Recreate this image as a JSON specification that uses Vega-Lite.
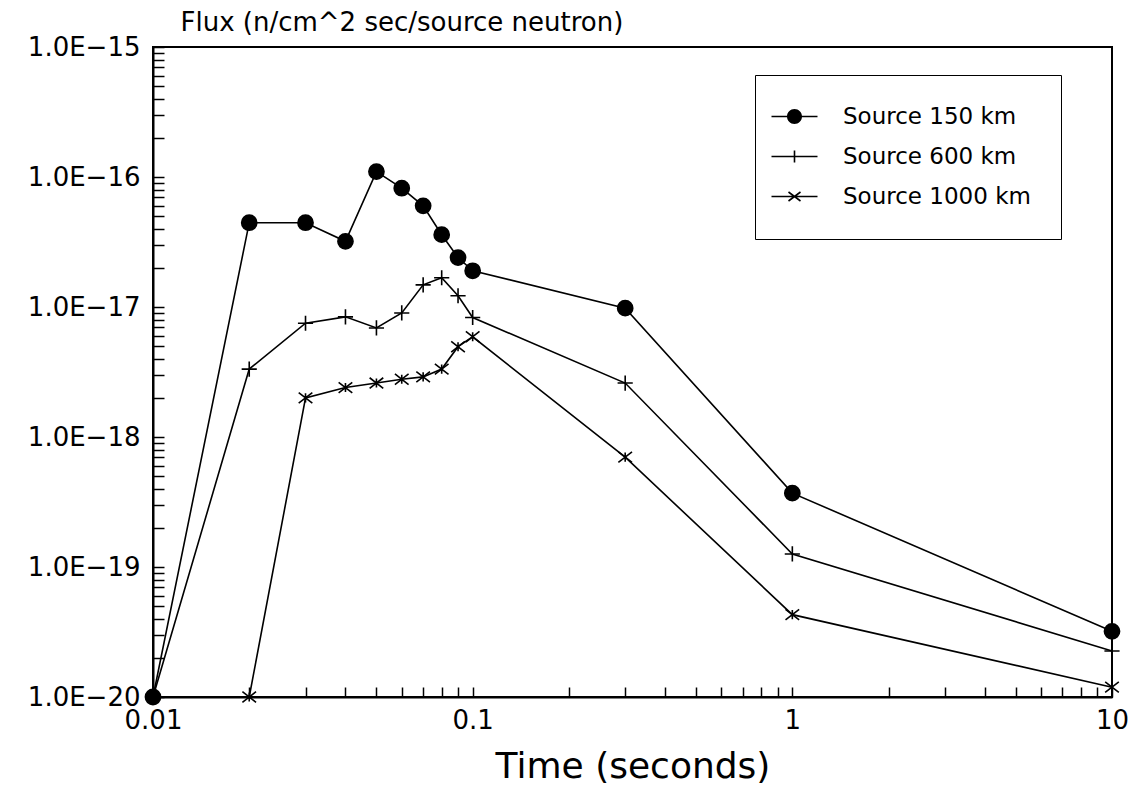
{
  "$schema": "https://vega.github.io/schema/vega-lite/v6.json",
  "width": 959,
  "height": 650,
  "autosize": "none",
  "padding": {"left": 153, "top": 47, "right": 25, "bottom": 98},
  "background": "white",
  "config": {
    "font": "DejaVu Sans",
    "view": {"stroke": "black", "strokeWidth": 2},
    "axis": {"domainColor": "black", "domainWidth": 2, "tickColor": "black", "tickWidth": 1.5, "labelColor": "black", "titleColor": "black", "grid": false, "labelFont": "DejaVu Sans", "titleFont": "DejaVu Sans", "titleFontWeight": "normal"}
  },
  "data": {
    "values": [
      {"series": "Source 150 km", "t": 0.01, "flux": 1e-20},
      {"series": "Source 150 km", "t": 0.02, "flux": 4.45e-17},
      {"series": "Source 150 km", "t": 0.03, "flux": 4.45e-17},
      {"series": "Source 150 km", "t": 0.04, "flux": 3.2e-17},
      {"series": "Source 150 km", "t": 0.05, "flux": 1.1e-16},
      {"series": "Source 150 km", "t": 0.06, "flux": 8.2e-17},
      {"series": "Source 150 km", "t": 0.07, "flux": 6.0e-17},
      {"series": "Source 150 km", "t": 0.08, "flux": 3.6e-17},
      {"series": "Source 150 km", "t": 0.09, "flux": 2.4e-17},
      {"series": "Source 150 km", "t": 0.1, "flux": 1.9e-17},
      {"series": "Source 150 km", "t": 0.3, "flux": 9.8e-18},
      {"series": "Source 150 km", "t": 1, "flux": 3.7e-19},
      {"series": "Source 150 km", "t": 10, "flux": 3.2e-20},
      {"series": "Source 600 km", "t": 0.01, "flux": 1e-20},
      {"series": "Source 600 km", "t": 0.02, "flux": 3.33e-18},
      {"series": "Source 600 km", "t": 0.03, "flux": 7.5e-18},
      {"series": "Source 600 km", "t": 0.04, "flux": 8.4e-18},
      {"series": "Source 600 km", "t": 0.05, "flux": 6.9e-18},
      {"series": "Source 600 km", "t": 0.06, "flux": 9.0e-18},
      {"series": "Source 600 km", "t": 0.07, "flux": 1.48e-17},
      {"series": "Source 600 km", "t": 0.08, "flux": 1.68e-17},
      {"series": "Source 600 km", "t": 0.09, "flux": 1.22e-17},
      {"series": "Source 600 km", "t": 0.1, "flux": 8.3e-18},
      {"series": "Source 600 km", "t": 0.3, "flux": 2.6e-18},
      {"series": "Source 600 km", "t": 1, "flux": 1.26e-19},
      {"series": "Source 600 km", "t": 10, "flux": 2.26e-20},
      {"series": "Source 1000 km", "t": 0.02, "flux": 1e-20},
      {"series": "Source 1000 km", "t": 0.03, "flux": 2.0e-18},
      {"series": "Source 1000 km", "t": 0.04, "flux": 2.4e-18},
      {"series": "Source 1000 km", "t": 0.05, "flux": 2.6e-18},
      {"series": "Source 1000 km", "t": 0.06, "flux": 2.78e-18},
      {"series": "Source 1000 km", "t": 0.07, "flux": 2.9e-18},
      {"series": "Source 1000 km", "t": 0.08, "flux": 3.33e-18},
      {"series": "Source 1000 km", "t": 0.09, "flux": 4.95e-18},
      {"series": "Source 1000 km", "t": 0.1, "flux": 5.9e-18},
      {"series": "Source 1000 km", "t": 0.3, "flux": 7.0e-19},
      {"series": "Source 1000 km", "t": 1, "flux": 4.3e-20},
      {"series": "Source 1000 km", "t": 10, "flux": 1.19e-20}
    ]
  },
  "encoding": {
    "x": {
      "field": "t", "type": "quantitative",
      "scale": {"type": "log", "domain": [0.01, 10], "nice": false},
      "axis": {
        "title": "Time (seconds)",
        "titleFontSize": 36,
        "titlePadding": 16,
        "labelFontSize": 26,
        "labelPadding": 20,
        "tickSize": -10,
        "values": [0.01,0.02,0.03,0.04,0.05,0.06,0.07,0.08,0.09,0.1,0.2,0.3,0.4,0.5,0.6,0.7,0.8,0.9,1,2,3,4,5,6,7,8,9,10],
        "labelExpr": "abs(log(datum.value)/LN10 - round(log(datum.value)/LN10)) < 0.001 ? datum.value + '' : ''",
        "labelOverlap": false,
        "labelFlush": false
      }
    },
    "y": {
      "field": "flux", "type": "quantitative",
      "scale": {"type": "log", "domain": [1e-20, 1e-15], "nice": false},
      "axis": {
        "title": "Flux (n/cm^2 sec/source neutron)",
        "titleAngle": 0,
        "titleAlign": "left",
        "titleBaseline": "alphabetic",
        "titleX": 27,
        "titleY": -17,
        "titleFontSize": 26,
        "labelFontSize": 26,
        "labelPadding": 24,
        "tickSize": -11,
        "values": [1e-20,2e-20,3e-20,4e-20,5e-20,6e-20,7e-20,8e-20,9e-20,1e-19,2e-19,3e-19,4e-19,5e-19,6e-19,7e-19,8e-19,9e-19,1e-18,2e-18,3e-18,4e-18,5e-18,6e-18,7e-18,8e-18,9e-18,1e-17,2e-17,3e-17,4e-17,5e-17,6e-17,7e-17,8e-17,9e-17,1e-16,2e-16,3e-16,4e-16,5e-16,6e-16,7e-16,8e-16,9e-16,1e-15],
        "labelExpr": "abs(log(datum.value)/LN10 - round(log(datum.value)/LN10)) < 0.001 ? '1.0E−' + abs(round(log(datum.value)/LN10)) : ''",
        "labelOverlap": false,
        "labelFlush": false
      }
    }
  },
  "resolve": {"scale": {"shape": "independent"}, "legend": {"shape": "independent"}},
  "layer": [
    {
      "mark": {"type": "line", "color": "black", "strokeWidth": 1.6},
      "encoding": {"detail": {"field": "series"}}
    },
    {
      "mark": {"type": "point", "filled": true, "fill": "black", "stroke": "black", "strokeWidth": 1.6, "opacity": 1, "size": 230},
      "encoding": {
        "shape": {
          "field": "series", "type": "nominal",
          "scale": {
            "domain": ["Source 150 km", "Source 600 km", "Source 1000 km"],
            "range": ["circle", "M-1,0H1M0,-1V1", "M-0.9,-0.7L0.9,0.7M-0.9,0.7L0.9,-0.7M0,-0.6V0.6"]
          },
          "legend": null
        }
      }
    },
    {
      "mark": {"type": "point", "filled": true, "fill": "black", "stroke": "black", "strokeWidth": 1.5, "opacity": 0, "size": 230},
      "encoding": {
        "shape": {
          "field": "series", "type": "nominal",
          "scale": {
            "domain": ["Source 150 km", "Source 600 km", "Source 1000 km"],
            "range": [
              "M-2.3,-0.08V0.08H-0.7V-0.08Z M0.7,-0.08V0.08H2.3V-0.08Z M-0.75,0A0.75,0.75 0 1,0 0.75,0A0.75,0.75 0 1,0 -0.75,0Z",
              "M-2.3,-0.08V0.08H2.3V-0.08Z M-0.08,-0.6V0.6H0.08V-0.6Z",
              "M-2.3,-0.08V0.08H2.3V-0.08Z M-0.648,-0.386L0.552,0.514L0.648,0.386L-0.552,-0.514Z M-0.552,0.514L0.648,-0.386L0.552,-0.514L-0.648,0.386Z"
            ]
          },
          "legend": {
            "title": null,
            "orient": "none",
            "legendX": 602,
            "legendY": 28,
            "strokeColor": "black",
            "fillColor": "white",
            "padding": 30,
            "symbolSize": 400,
            "symbolOffset": -2,
            "symbolOpacity": 1,
            "symbolFillColor": "black",
            "symbolStrokeColor": "black",
            "symbolStrokeWidth": 0,
            "labelOffset": 37,
            "labelFontSize": 23,
            "labelLimit": 400,
            "labelFont": "DejaVu Sans",
            "labelColor": "black",
            "rowPadding": 16
          }
        }
      }
    }
  ]
}
